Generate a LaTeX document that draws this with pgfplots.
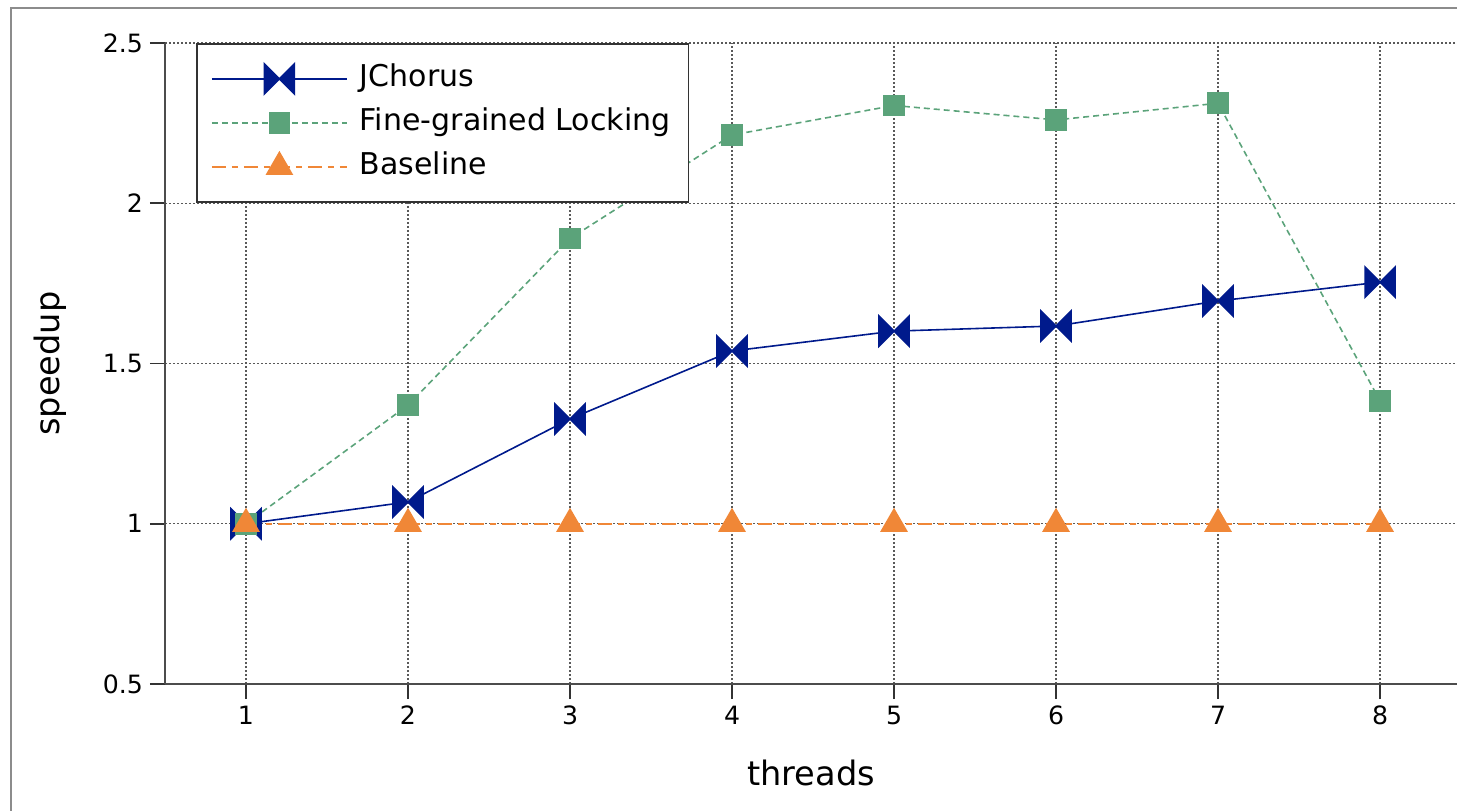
\documentclass[border=0pt]{standalone}
\usepackage{fontspec}
\setmainfont{DejaVu Sans}
\usepackage{pgfplots}
\pgfplotsset{compat=1.18}
\definecolor{jblue}{RGB}{0,26,140}
\definecolor{fgreen}{RGB}{91,163,122}
\definecolor{borange}{RGB}{240,135,55}
\pgfdeclareplotmark{bowtie}{%
 \pgfpathmoveto{\pgfqpoint{-\pgfplotmarksize}{\pgfplotmarksize}}%
 \pgfpathlineto{\pgfqpoint{\pgfplotmarksize}{-\pgfplotmarksize}}%
 \pgfpathlineto{\pgfqpoint{\pgfplotmarksize}{\pgfplotmarksize}}%
 \pgfpathlineto{\pgfqpoint{-\pgfplotmarksize}{-\pgfplotmarksize}}%
 \pgfpathclose\pgfusepathqfillstroke}
\begin{document}
\begin{tikzpicture}
\useasboundingbox (0,0) rectangle (728.5pt,405pt);
\draw[black!45, line width=1.3pt] (5.5pt,-2pt) -- (5.5pt,401pt) -- (732pt,401pt);
\begin{axis}[
 at={(82.5pt,63pt)}, anchor=south west,
 scale only axis, width=646pt, height=320.5pt,
 xmin=0.5, xmax=8.475, ymin=0.5, ymax=2.5,
 axis x line*=bottom, axis y line*=left,
 axis line style={-, black!70, line width=1pt},
 xtick={1,2,3,4,5,6,7,8}, ytick={0.5,1,1.5,2,2.5},
 tick align=outside, major tick length=7.5pt,
 tick style={black!80, line width=0.8pt},
 grid=major, grid style={black!65, dash pattern=on 1pt off 1pt, line width=0.6pt},
 /pgf/number format/assume math mode=true,
 tick label style={font=\fontsize{12.6}{15}\selectfont},
 xlabel={threads}, ylabel={speedup},
 every axis x label/.style={at={(axis description cs:0.5,0)}, yshift=-44.5pt, anchor=center, font=\fontsize{16.8}{20}\selectfont},
 every axis y label/.style={at={(axis description cs:0,0.5)}, xshift=-57.5pt, rotate=90, anchor=center, font=\fontsize{16.8}{20}\selectfont},
 legend style={at={(axis description cs:0.024,1)}, anchor=north west,
   font=\fontsize{15}{17}\selectfont, draw=black!80, line width=0.9pt,
   inner xsep=7pt, inner ysep=8.5pt, row sep=4pt, column sep=4pt,
   nodes={inner sep=2pt, text height=11pt, text depth=3pt}},
 legend cell align=left,
 legend image code/.code={\draw[mark repeat=2,mark phase=2,#1] plot coordinates {(0pt,0pt)(33.75pt,0pt)(67.5pt,0pt)};},
]
\addplot[jblue, line width=0.8pt, mark=bowtie, mark size=7.5pt, mark options={solid, fill=jblue}]
 coordinates {(1,1.0)(2,1.068)(3,1.327)(4,1.539)(5,1.601)(6,1.617)(7,1.695)(8,1.754)};
\addlegendentry{JChorus}
\addplot[fgreen, line width=0.8pt, dash pattern=on 3pt off 2pt, mark=square*, mark size=5pt, mark options={solid, fill=fgreen}]
 coordinates {(1,1.0)(2,1.37)(3,1.89)(4,2.213)(5,2.305)(6,2.26)(7,2.312)(8,1.383)};
\addlegendentry{Fine-grained Locking}
\addplot[borange, line width=1pt, dash pattern=on 7pt off 3pt on 3pt off 3pt, mark=triangle*, mark size=7pt, mark options={solid, fill=borange}]
 coordinates {(1,1)(2,1)(3,1)(4,1)(5,1)(6,1)(7,1)(8,1)};
\addlegendentry{Baseline}
\end{axis}
\end{tikzpicture}
\end{document}
